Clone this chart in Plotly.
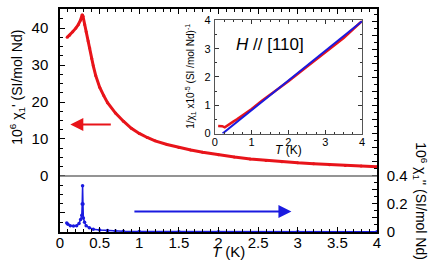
import plotly.graph_objects as go

# main panel: real part chi' (left axis)
T_re = [0.09, 0.12, 0.16, 0.20, 0.23, 0.26, 0.28, 0.29, 0.31, 0.33, 0.355, 0.375, 0.40, 0.42,
        0.45, 0.50, 0.55, 0.60, 0.70, 0.80, 0.90, 1.00, 1.10, 1.20, 1.35, 1.50, 1.65, 1.80,
        2.00, 2.20, 2.40, 2.60, 2.80, 3.00, 3.20, 3.40, 3.60, 3.80, 4.00]
chi_re = [37.5, 38.1, 39.0, 40.0, 40.9, 42.2, 43.6, 43.2, 41.0, 39.0, 36.5, 34.6, 31.8, 29.8,
          27.2, 24.0, 21.8, 19.8, 17.0, 14.8, 12.9, 11.5, 10.4, 9.5, 8.5, 7.7, 7.0, 6.4,
          5.7, 5.1, 4.6, 4.2, 3.85, 3.55, 3.3, 3.05, 2.85, 2.7, 2.5]

# main panel: imaginary part chi'' (right axis)
T_im = [0.085, 0.10, 0.13, 0.17, 0.21, 0.24, 0.26, 0.275, 0.28, 0.285, 0.29, 0.295, 0.31,
        0.33, 0.37, 0.42, 0.50, 0.60, 0.70, 0.80, 1.00, 1.50, 2.00, 3.00, 4.00]
chi_im = [0.065, 0.055, 0.045, 0.042, 0.045, 0.06, 0.09, 0.12, 0.2, 0.33, 0.2, 0.1, 0.07,
          0.045, 0.03, 0.02, 0.015, 0.01, 0.008, 0.005, 0.003, 0.002, 0.001, 0.001, 0.001]

# inset: inverse susceptibility and linear fit
T_inv = [0.09, 0.15, 0.20, 0.27, 0.35, 0.40, 0.50, 0.60, 0.80, 1.00, 1.27, 1.50, 2.00,
         2.50, 3.00, 3.50, 4.00]
inv_chi = [0.27, 0.27, 0.26, 0.22, 0.28, 0.33, 0.42, 0.50, 0.68, 0.87, 1.15, 1.37, 1.85,
           2.36, 2.87, 3.38, 3.98]
T_fit = [0.21, 4.0]
inv_fit = [0.0, 3.97]

RED = "#e8141a"
BLUE = "#1a1ae0"
FONT = "Liberation Sans, Arial, sans-serif"

fig = go.Figure()
fig.add_trace(go.Scatter(x=T_re, y=chi_re, mode="lines+markers", line=dict(color=RED, width=3),
                         marker=dict(size=3, color=RED), xaxis="x", yaxis="y", showlegend=False))
fig.add_trace(go.Scatter(x=T_im, y=chi_im, mode="lines+markers", line=dict(color=BLUE, width=1.5),
                         marker=dict(size=3.5, color=BLUE), xaxis="x", yaxis="y2", showlegend=False))
fig.add_trace(go.Scatter(x=T_inv, y=inv_chi, mode="lines", line=dict(color=RED, width=2.5),
                         xaxis="x2", yaxis="y3", showlegend=False))
fig.add_trace(go.Scatter(x=T_fit, y=inv_fit, mode="lines", line=dict(color=BLUE, width=2),
                         xaxis="x2", yaxis="y3", showlegend=False))

W, H = 436, 268
L, R, TOP, B = 60, 377.3, 3.3, 232.0
pw, ph = R - L, B - TOP

def px(x):
    return (x - L) / pw

def py(y):
    return (B - y) / ph

tickfont = dict(family=FONT, size=15, color="black")
inset_font = dict(family=FONT, size=11, color="black")

fig.update_layout(
    width=W, height=H, autosize=False,
    margin=dict(l=L, r=W - R, t=TOP, b=H - B, pad=0),
    paper_bgcolor="white", plot_bgcolor="white",
    font=dict(family=FONT, color="black"),
    xaxis=dict(domain=[0, 1], range=[0, 4], tickvals=[0, 0.5, 1, 1.5, 2, 2.5, 3, 3.5, 4],
               ticktext=["0", "0.5", "1", "1.5", "2", "2.5", "3", "3.5", "4"],
               ticks="inside", ticklen=5, tickwidth=1, tickcolor="black",
               minor=dict(tickmode="linear", tick0=0, dtick=0.1, ticks="inside", ticklen=3,
                          tickcolor="black"),
               showline=True, linecolor="black", linewidth=1.5, mirror="ticks",
               showgrid=False, zeroline=False, tickfont=tickfont, ticklabelstandoff=-4),
    yaxis=dict(domain=[0, 1], range=[-15.17, 45.17], tickvals=[-10, 0, 10, 20, 30, 40],
               ticktext=["", "0", "10", "20", "30", "40"],
               ticks="inside", ticklen=5, tickwidth=1, tickcolor="black",
               minor=dict(tickmode="linear", tick0=0, dtick=2.5, ticks="inside", ticklen=3,
                          tickcolor="black"),
               showline=True, linecolor="black", linewidth=1.5,
               showgrid=False, zeroline=False, tickfont=tickfont, ticklabelstandoff=7),
    yaxis2=dict(overlaying="y", side="right", anchor="x", range=[0, 1.591],
                tickvals=[0, 0.1, 0.2, 0.3, 0.4, 0.5, 0.6, 0.7, 0.8, 0.9, 1.0, 1.1, 1.2, 1.3, 1.4, 1.5],
                ticktext=["0", "", "0.2", "", "0.4"] + [""] * 11,
                ticks="inside", ticklen=5, tickwidth=1, tickcolor="black",
                minor=dict(tickmode="linear", tick0=0, dtick=0.05, ticks="inside", ticklen=3,
                           tickcolor="black"),
                showline=True, linecolor="black", linewidth=1.5,
                showgrid=False, zeroline=False, tickfont=tickfont, ticklabelstandoff=5),
    xaxis2=dict(domain=[px(215), px(362.3)], anchor="y3", range=[0, 4], dtick=1,
                ticks="inside", ticklen=4, tickcolor="#333",
                minor=dict(tickmode="linear", tick0=0, dtick=0.25, ticks="inside", ticklen=2,
                           tickcolor="#333"),
                showline=True, linecolor="#555", linewidth=1, mirror="ticks",
                showgrid=False, zeroline=False, tickfont=inset_font, ticklabelstandoff=-2),
    yaxis3=dict(domain=[py(131), py(15)], anchor="x2", range=[0, 4], dtick=1,
                ticks="inside", ticklen=4, tickcolor="#333",
                minor=dict(tickmode="linear", tick0=0, dtick=0.5, ticks="inside", ticklen=2,
                           tickcolor="#333"),
                showline=True, linecolor="#555", linewidth=1, mirror="ticks",
                showgrid=False, zeroline=False, tickfont=inset_font, ticklabelstandoff=1),
)

# horizontal zero line separating the panels
fig.add_shape(type="line", xref="paper", yref="y", x0=0, x1=1, y0=0, y1=0,
              line=dict(color="#707070", width=1.5))

anns = [
    dict(text="10<sup>6</sup> χ<sub>1</sub>' (SI/mol Nd)", x=px(17), y=py(84), textangle=-90,
         font=dict(family=FONT, size=14)),
    dict(text="10<sup>6</sup> χ<sub>1</sub>'' (SI/mol Nd)", x=px(421), y=py(200), textangle=90,
         font=dict(family=FONT, size=14)),
    dict(text="<i>T</i> (K)", x=px(229), y=py(252), font=dict(family=FONT, size=15)),
    dict(text="1/χ<sub>1</sub> x10<sup>-5</sup> (SI /mol Nd)<sup>-1</sup>", x=px(191), y=py(72),
         textangle=-90, font=dict(family=FONT, size=10)),
    dict(text="<i>T</i> (K)", x=px(289), y=py(148), font=dict(family=FONT, size=12)),
    dict(text="<i>H</i> // [110]", x=px(270), y=py(40), font=dict(family=FONT, size=17)),
]
for a in anns:
    fig.add_annotation(xref="paper", yref="paper", showarrow=False, xanchor="center",
                       yanchor="middle", **a)

# arrows
fig.add_annotation(x=0.13, y=13.9, ax=0.66, ay=13.9, xref="x", yref="y", axref="x", ayref="y",
                   showarrow=True, arrowhead=2, arrowsize=1.3, arrowwidth=2, arrowcolor=RED, text="")
fig.add_annotation(x=2.92, y=0.146, ax=0.92, ay=0.146, xref="x", yref="y2", axref="x", ayref="y2",
                   showarrow=True, arrowhead=2, arrowsize=1.3, arrowwidth=2, arrowcolor=BLUE, text="")

fig.write_html("out.html", config={"displayModeBar": False},
               post_script="document.body.style.margin='0';document.body.style.overflow='hidden';")
